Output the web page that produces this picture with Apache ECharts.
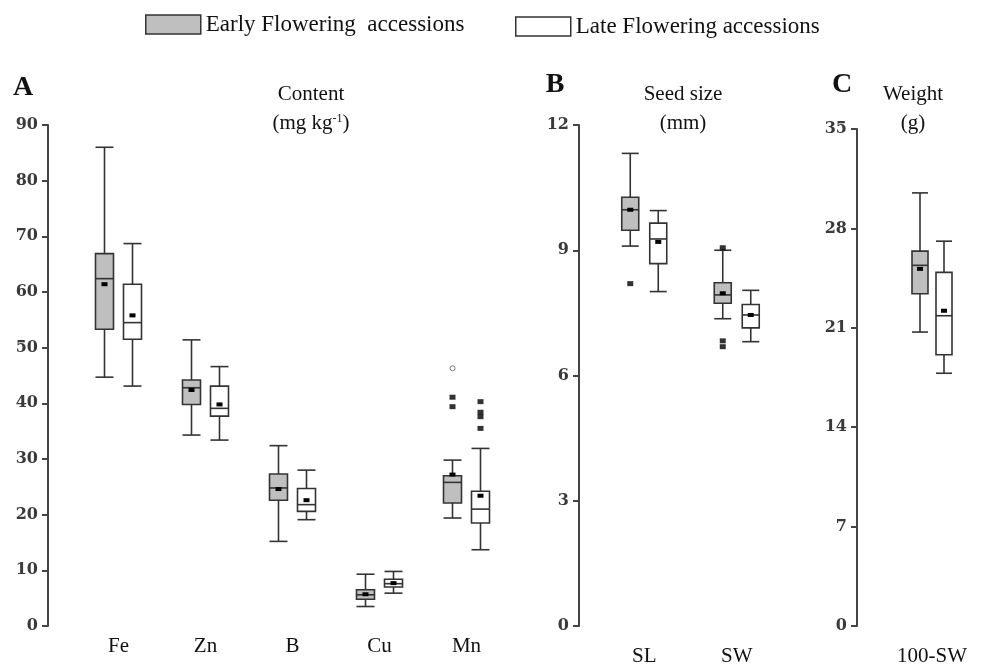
<!DOCTYPE html>
<html>
<head>
<meta charset="utf-8">
<title>Seed mineral content, size and weight</title>
<script src="https://cdn.jsdelivr.net/npm/echarts@6.0.0/dist/echarts.min.js"></script>
<style>
  html, body { margin: 0; padding: 0; background: #fff; }
  #chart { width: 984px; height: 667px; }
</style>
</head>
<body>
<div id="chart"></div>
<script>
// categories
var contentCats = ['Fe', 'Zn', 'B', 'Cu', 'Mn'];
var seedCats = ['SL', 'SW'];
var weightCats = ['100-SW'];

// y axis ticks: [min, max, step]
var contentTicks = [0, 90, 10];
var seedTicks = [0, 12, 3];
var weightTicks = [0, 35, 7];

// box stats per category: [min, Q1, median, Q3, max]
var contentEarly = [[44.7, 53.3, 62.4, 66.9, 86.0], [34.3, 39.8, 42.8, 44.2, 51.4], [15.2, 22.6, 24.8, 27.3, 32.4], [3.5, 4.8, 5.6, 6.5, 9.3], [19.4, 22.1, 25.8, 27.0, 29.8]];
var contentEarlyMean = [61.4, 42.4, 24.6, 5.7, 27.2];
var contentLate = [[43.1, 51.5, 54.5, 61.4, 68.7], [33.4, 37.7, 39.1, 43.1, 46.6], [19.1, 20.6, 21.8, 24.7, 28.0], [5.9, 7.0, 7.6, 8.4, 9.8], [13.7, 18.5, 21.0, 24.2, 31.9]];
var contentLateMean = [55.8, 39.8, 22.6, 7.7, 23.4];
var contentEarlyOut = [['Mn', 41.1], ['Mn', 39.4]];
var contentEarlyExtreme = [['Mn', 46.3]];
var contentLateOut = [['Mn', 40.3], ['Mn', 38.4], ['Mn', 37.6], ['Mn', 35.5]];

var seedEarly = [[9.10, 9.48, 9.97, 10.27, 11.32], [7.36, 7.73, 7.93, 8.22, 9.00]];
var seedEarlyMean = [9.97, 7.97];
var seedLate = [[8.01, 8.68, 9.27, 9.65, 9.95], [6.81, 7.14, 7.45, 7.70, 8.04]];
var seedLateMean = [9.20, 7.45];
var seedEarlyOut = [['SL', 8.20], ['SW', 9.06], ['SW', 6.83], ['SW', 6.69]];

var weightEarly = [[20.7, 23.4, 25.4, 26.4, 30.5]];
var weightEarlyMean = [25.15];
var weightLate = [[17.8, 19.1, 21.85, 24.9, 27.1]];
var weightLateMean = [22.2];

var EARLY = 'Early Flowering  accessions';
var LATE = 'Late Flowering accessions';
var serif = '"Liberation Serif", "Times New Roman", serif';
var ink = '#333';

function toBoxData(stats, means) {
  return stats.map(function (s, i) { return [i].concat(s).concat([means[i]]); });
}

// draws one box with whiskers, caps, median and mean marker
function boxItem(offset, boxW, fill) {
  return function (params, api) {
    var i = api.value(0);
    var x = api.coord([i, 0])[0] + offset;
    var y = function (k) { return api.coord([i, api.value(k)])[1]; };
    var yMin = y(1), yQ1 = y(2), yMed = y(3), yQ3 = y(4), yMax = y(5), yMean = y(6);
    var h = boxW / 2;
    var ls = { stroke: ink, lineWidth: 1.6 };
    return {
      type: 'group',
      children: [
        { type: 'line', shape: { x1: x, y1: yMax, x2: x, y2: yQ3 }, style: ls },
        { type: 'line', shape: { x1: x, y1: yQ1, x2: x, y2: yMin }, style: ls },
        { type: 'line', shape: { x1: x - h, y1: yMax, x2: x + h, y2: yMax }, style: ls },
        { type: 'line', shape: { x1: x - h, y1: yMin, x2: x + h, y2: yMin }, style: ls },
        { type: 'rect', shape: { x: x - h, y: yQ3, width: boxW, height: yQ1 - yQ3 }, style: { fill: fill, stroke: ink, lineWidth: 1.6 } },
        { type: 'line', shape: { x1: x - h, y1: yMed, x2: x + h, y2: yMed }, style: ls },
        { type: 'rect', shape: { x: x - 3, y: yMean - 2, width: 6, height: 4 }, style: { fill: '#000' } }
      ]
    };
  };
}

function panelSeries(g, early, earlyMean, late, lateMean, off, bw) {
  return [
    {
      name: EARLY, type: 'custom', xAxisIndex: g, yAxisIndex: g,
      data: toBoxData(early, earlyMean), encode: { x: 0, y: [1, 2, 3, 4, 5] },
      renderItem: boxItem(-off, bw, '#bfbfbf'), itemStyle: { color: '#bfbfbf' }
    },
    {
      name: LATE, type: 'custom', xAxisIndex: g, yAxisIndex: g,
      data: toBoxData(late, lateMean), encode: { x: 0, y: [1, 2, 3, 4, 5] },
      renderItem: boxItem(off, bw, '#fff'), itemStyle: { color: '#fff' }
    }
  ];
}

function outliers(g, data, off, symbol) {
  return {
    type: 'scatter', xAxisIndex: g, yAxisIndex: g, data: data,
    symbol: symbol || 'rect', symbolSize: symbol ? 5 : [6, 5], symbolOffset: [off, 0],
    itemStyle: symbol ? { color: '#fff', borderColor: '#555', borderWidth: 1 } : { color: '#000' },
    z: 5
  };
}

function yAxisFor(g, ticks, offset) {
  return {
    type: 'value', gridIndex: g, min: ticks[0], max: ticks[1], interval: ticks[2], offset: offset,
    axisLine: { show: true, lineStyle: { color: '#444', width: 2 } },
    axisTick: { show: true, length: 6, lineStyle: { color: '#444', width: 2 } },
    splitLine: { show: false },
    axisLabel: { color: '#3a3a3a', fontFamily: '"DejaVu Serif", serif', fontWeight: 'bold', fontSize: 16, margin: 10 }
  };
}

function xAxisFor(g, cats, margin) {
  return {
    type: 'category', gridIndex: g, data: cats,
    axisLine: { show: false }, axisTick: { show: false },
    axisLabel: { color: '#111', fontFamily: serif, fontSize: 21, margin: margin }
  };
}

function label(x, y, text, size, bold) {
  return {
    type: 'text', x: x, y: y,
    style: { text: text, fontFamily: serif, fontSize: size, fontWeight: bold ? 'bold' : 'normal', fill: '#111', align: 'center', verticalAlign: 'middle' }
  };
}

var chart = echarts.init(document.getElementById('chart'));

var option = {
  animation: false,
  legend: [
    {
      left: 145, top: 13, padding: 0, itemWidth: 55, itemHeight: 19, selectedMode: false,
      data: [{ name: EARLY, icon: 'rect', itemStyle: { color: '#bfbfbf', borderColor: ink, borderWidth: 1.5 } }],
      textStyle: { fontFamily: serif, fontSize: 23, color: '#111' }
    },
    {
      left: 515, top: 15, padding: 0, itemWidth: 55, itemHeight: 19, selectedMode: false,
      data: [{ name: LATE, icon: 'rect', itemStyle: { color: '#fff', borderColor: ink, borderWidth: 1.5 } }],
      textStyle: { fontFamily: serif, fontSize: 23, color: '#111', padding: [8, 0, 0, 0] }
    }
  ],
  grid: [
    { left: 75, top: 125, width: 435, height: 501 },
    { left: 598, top: 125, width: 185, height: 503 },
    { left: 897, top: 129, width: 70, height: 499 }
  ],
  xAxis: [xAxisFor(0, contentCats, 10), xAxisFor(1, seedCats, 20), xAxisFor(2, weightCats, 20)],
  yAxis: [yAxisFor(0, contentTicks, 27), yAxisFor(1, seedTicks, 19), yAxisFor(2, weightTicks, 40)],
  graphic: [
    label(23, 88, 'A', 28, true),
    label(555, 85, 'B', 28, true),
    label(842, 85, 'C', 28, true),
    label(311, 94, 'Content', 21),
    {
      type: 'text', x: 311, y: 123,
      style: {
        text: '{n|(mg kg}{s|-1}{n|)}', align: 'center', verticalAlign: 'middle', fill: '#111',
        rich: { n: { fontFamily: serif, fontSize: 21 }, s: { fontFamily: serif, fontSize: 12, verticalAlign: 'top' } }
      }
    },
    label(683, 94, 'Seed size', 21),
    label(683, 123, '(mm)', 21),
    label(913, 94, 'Weight', 21),
    label(913, 123, '(g)', 21)
  ],
  series: []
    .concat(panelSeries(0, contentEarly, contentEarlyMean, contentLate, contentLateMean, 14, 18))
    .concat(panelSeries(1, seedEarly, seedEarlyMean, seedLate, seedLateMean, 14, 17))
    .concat(panelSeries(2, weightEarly, weightEarlyMean, weightLate, weightLateMean, 12, 16))
    .concat([
      outliers(0, contentEarlyOut, -14),
      outliers(0, contentEarlyExtreme, -14, 'circle'),
      outliers(0, contentLateOut, 14),
      outliers(1, seedEarlyOut, -14)
    ])
};

chart.setOption(option);
</script>
</body>
</html>
